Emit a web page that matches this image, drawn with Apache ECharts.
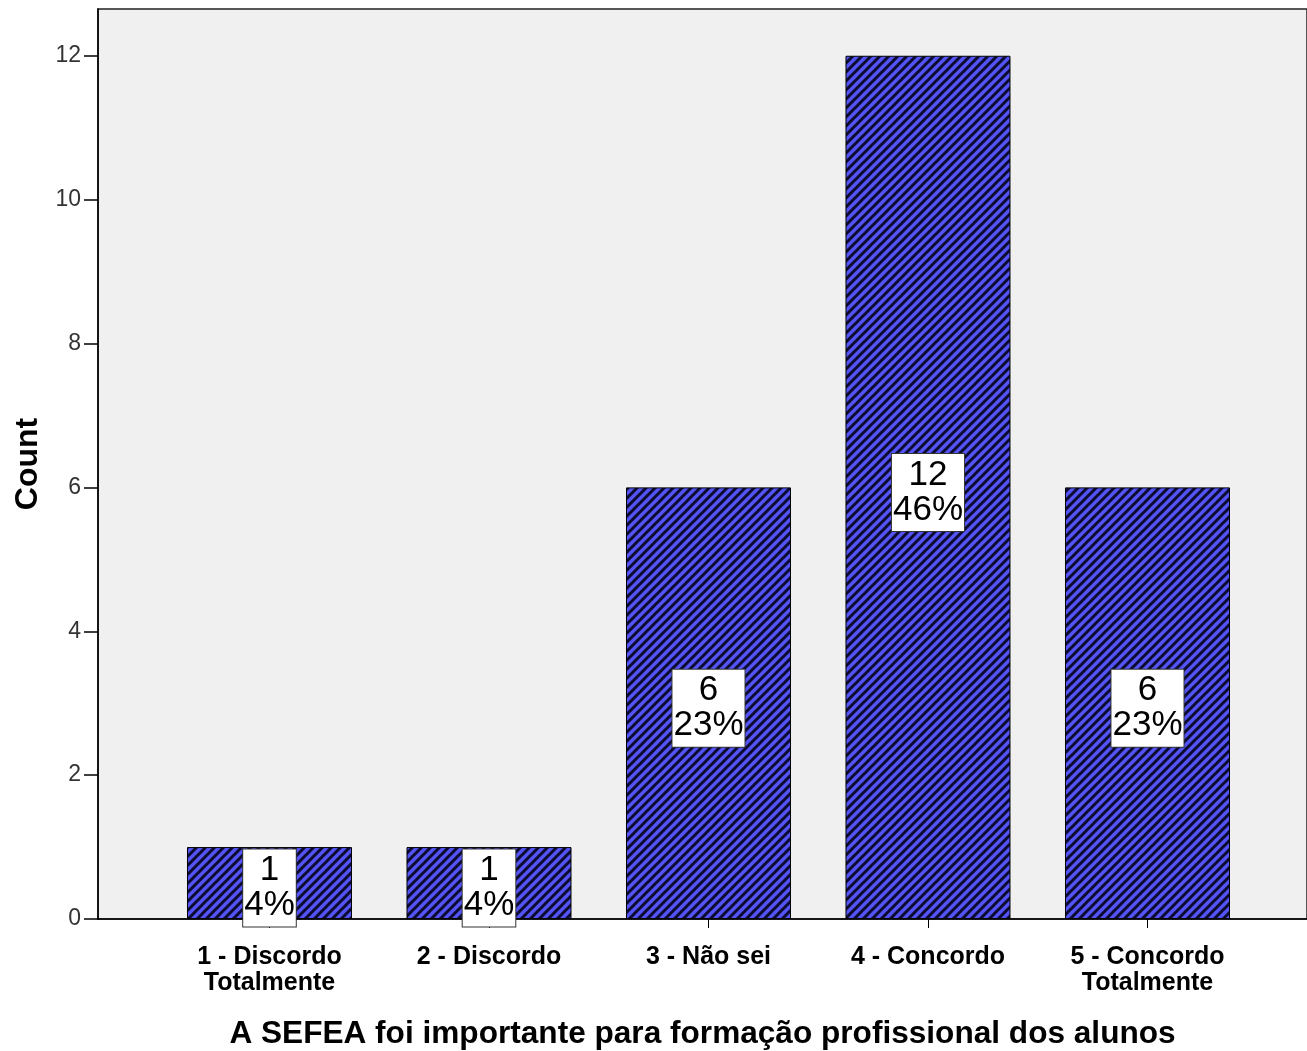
<!DOCTYPE html>
<html>
<head>
<meta charset="utf-8">
<script src="https://cdn.jsdelivr.net/npm/echarts@6/dist/echarts.min.js"></script>
<style>
html,body{margin:0;padding:0;background:#fff;}
#chart{width:1307px;height:1051px;}
</style>
</head>
<body>
<div id="chart"></div>
<script>
const categories = ['1 - Discordo\nTotalmente', '2 - Discordo', '3 - Não sei', '4 - Concordo', '5 - Concordo\nTotalmente'];
const counts = [1, 1, 6, 12, 6];
const percents = ['4%', '4%', '23%', '46%', '23%'];
const yTicks = [0, 2, 4, 6, 8, 10, 12];
const xPositions = [1, 2, 3, 4, 5];

function makePattern() {
  const c = document.createElement('canvas');
  const s = 9;
  c.width = s; c.height = s;
  const g = c.getContext('2d');
  g.fillStyle = '#5454f6';
  g.fillRect(0, 0, s, s);
  g.strokeStyle = '#0c0c30';
  g.lineWidth = 3;
  g.beginPath();
  g.moveTo(-s, 2 * s); g.lineTo(2 * s, -s);
  g.moveTo(-2 * s, 2 * s); g.lineTo(s, -s);
  g.moveTo(0, 2 * s); g.lineTo(3 * s, -s);
  g.stroke();
  return c;
}

const chart = echarts.init(document.getElementById('chart'), null, {renderer: 'canvas'});
const font = 'Liberation Sans, Arial, sans-serif';

chart.setOption({
  animation: false,
  backgroundColor: '#ffffff',
  grid: {
    left: 98, right: 0, top: 9, bottom: 132,
    outerBoundsMode: 'none', containLabel: false,
    show: true, backgroundColor: '#f0f0f0', borderColor: '#222', borderWidth: 1.5
  },
  xAxis: {
    type: 'value',
    min: 0.2187, max: 5.7267,
    name: 'A SEFEA foi importante para formação profissional dos alunos',
    nameLocation: 'middle',
    nameGap: 99,
    nameTextStyle: {fontFamily: font, fontWeight: 'bold', fontSize: 31.6, color: '#000'},
    splitLine: {show: false},
    axisLine: {show: true, onZero: false, lineStyle: {color: '#000', width: 1.5}},
    axisTick: {show: true, length: 9, lineStyle: {color: '#000', width: 1}, customValues: xPositions},
    axisLabel: {
      customValues: xPositions,
      formatter: v => categories[Math.round(v) - 1] || '',
      fontFamily: font, fontWeight: 'bold', fontSize: 25, lineHeight: 26, color: '#000', margin: 25
    }
  },
  yAxis: {
    type: 'value',
    min: 0, max: 12.65,
    name: 'Count',
    nameLocation: 'middle',
    nameGap: 52,
    nameTextStyle: {fontFamily: font, fontWeight: 'bold', fontSize: 32, color: '#000'},
    splitLine: {show: false},
    axisLine: {show: true, lineStyle: {color: '#000', width: 1.5}},
    axisTick: {show: true, length: 14, lineStyle: {color: '#000', width: 1.5}, customValues: yTicks},
    axisLabel: {customValues: yTicks, fontFamily: font, fontSize: 23, color: '#333', margin: 17}
  },
  series: [{
    type: 'bar',
    barWidth: 165,
    data: counts.map((v, i) => [xPositions[i], v]),
    itemStyle: {
      color: {image: makePattern(), repeat: 'repeat'},
      borderColor: '#000', borderWidth: 1
    },
    label: {
      show: true,
      position: 'inside',
      offset: [0, 5],
      formatter: p => counts[p.dataIndex] + '\n' + percents[p.dataIndex],
      fontFamily: font, fontSize: 35, lineHeight: 35, color: '#000',
      backgroundColor: '#fff', borderColor: '#333', borderWidth: 1,
      padding: [4, 1, 3, 1]
    }
  }]
});
</script>
</body>
</html>
